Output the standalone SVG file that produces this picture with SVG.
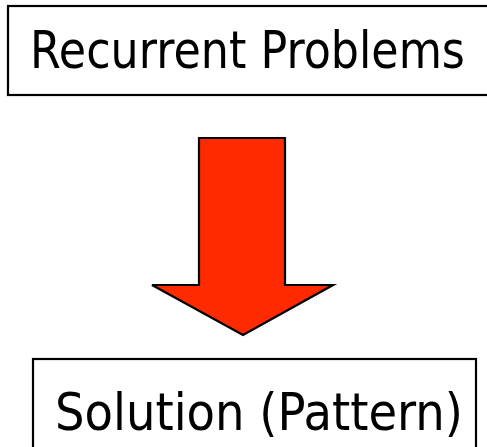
<svg xmlns="http://www.w3.org/2000/svg" width="487" height="447" viewBox="0 0 487 447">
  <style>
    .box { fill: #ffffff; stroke: #000000; stroke-width: 2.2; }
    .label { font-family: "Comic Sans MS", "DejaVu Sans", "Noto Sans", sans-serif; font-size: 52px; fill: #000000; }
    .arrow { fill: #ff2a00; stroke: #000000; stroke-width: 2.2; stroke-linejoin: miter; }
  </style>
  <rect width="487" height="447" fill="#ffffff"/>

  <g id="recurrent-problems">
    <rect class="box" x="8" y="6" width="500" height="89"/>
    <text class="label" x="30" y="68" textLength="435" lengthAdjust="spacingAndGlyphs">Recurrent Problems</text>
  </g>

  <g id="connectors">
    <polygon class="arrow" points="199,138 285,138 285,285 333,285 243,335 152,285 199,285"/>
  </g>

  <g id="solution-pattern">
    <rect class="box" x="33" y="359" width="443" height="100"/>
    <text class="label" x="55" y="430" textLength="408" lengthAdjust="spacingAndGlyphs">Solution (Pattern)</text>
  </g>
</svg>
